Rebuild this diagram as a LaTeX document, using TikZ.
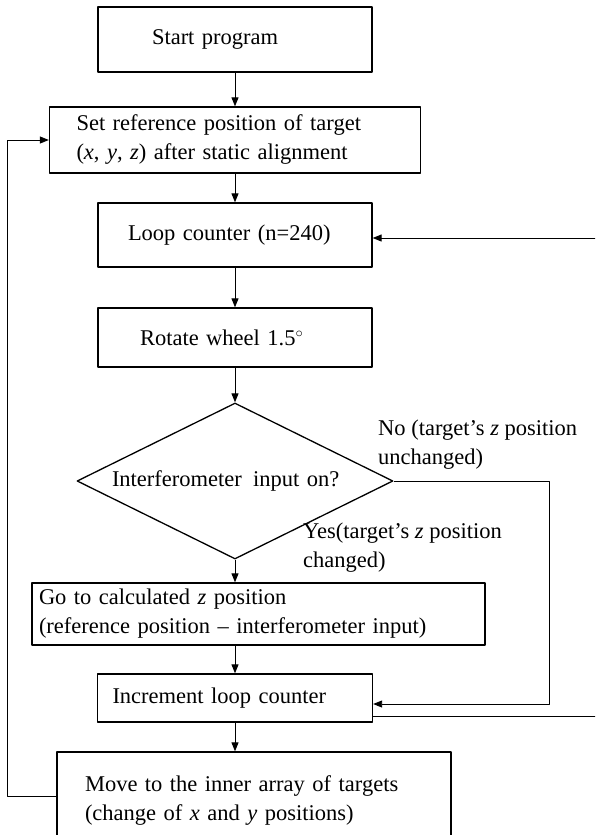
\documentclass[tikz,border=0pt]{standalone}
\usepackage{fontspec}
\setmainfont{Liberation Serif}
\usetikzlibrary{shapes.geometric,arrows.meta}
\begin{document}
\begin{tikzpicture}[x=1pt,y=-1pt,line join=round,>={Triangle[length=9pt,width=7pt]},
  every node/.style={font=\fontsize{22.5}{29}\selectfont},
  box/.style={draw,line width=1.3pt,align=left,inner ysep=0pt},
  link/.style={line width=0.9pt}]
\def\W{595}\def\H{835}
\useasboundingbox (0,0) rectangle (\W,\H);
\clip (0,0) rectangle (\W,\H);
\node[box,minimum height=65pt,text width=166pt,inner xsep=54pt] (start) at (235,39.5) {Start program};
\node[box,minimum height=66pt,text width=317pt,inner xsep=27pt] (setref) at (235,140) {Set reference position of target\\(\textit{x}, \textit{y}, \textit{z}) after static alignment};
\node[box,minimum height=64pt,text width=214pt,inner xsep=30pt] (loop) at (235,235) {Loop counter (n=240)};
\node[box,minimum height=59pt,text width=190pt,inner xsep=42pt] (rotate) at (235,337.5) {Rotate wheel 1.5$^{\circ}$};
\node[diamond,draw,line width=1.3pt,aspect=2,minimum width=316pt,minimum height=156pt,inner sep=0pt,text width=246pt,align=left] (dec) at (235,481) {Interferometer\, input on?};
\node[box,minimum height=62pt,text width=439pt,inner xsep=7pt] (goto) at (258.5,614) {Go to calculated \textit{z} position\\(reference position – interferometer input)};
\node[box,minimum height=48pt,text width=245pt,inner xsep=15pt] (incr) at (235,698) {Increment loop counter};
\node[box,minimum height=96pt,text width=338pt,inner xsep=28pt] (move) at (254,800) {Move to the inner array of targets\\(change of \textit{x} and \textit{y} positions)};
\node[anchor=west,align=left,inner sep=0pt] (nolbl) at (378,445) {No (target’s \textit{z} position\\unchanged)};
\node[anchor=west,align=left,inner sep=0pt] (yeslbl) at (303,548) {Yes(target’s \textit{z} position\\changed)};
\draw[link,->] (start) -- (setref);
\draw[link,->] (setref) -- (loop);
\draw[link,->] (loop) -- (rotate);
\draw[link,->] (rotate) -- (dec);
\draw[link,->] (dec.south) -- (dec.south |- goto.north);
\draw[link,->] (goto.south -| incr) -- (incr);
\draw[link,->] (incr) -- (incr |- move.north);
\coordinate (noturn) at (549,481);
\draw[link,->] (dec.east) -- (noturn) |- ([yshift=-6pt]incr.east);
\coordinate (backturn) at (600,716);
\draw[link,->] ([yshift=-18pt]incr.east) -- (backturn) |- ([yshift=-3pt]loop.east);
\coordinate (leftturn) at (7,796);
\draw[link,->] ([yshift=4pt]move.west) -- (leftturn) |- (setref.west);
\end{tikzpicture}
\end{document}
